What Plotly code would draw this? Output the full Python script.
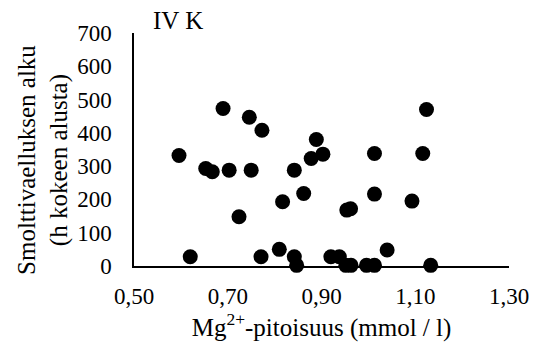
import plotly.graph_objects as go

mg = [0.690, 0.596, 0.653, 0.667, 0.703, 0.724, 0.620, 0.746, 0.773, 0.750,
      0.771, 0.817, 0.810, 0.842, 0.842, 0.847, 0.862, 0.878, 0.889, 0.903,
      1.013, 1.116, 1.124, 0.954, 0.962, 1.013, 1.093, 1.040, 0.920, 0.938,
      0.952, 0.963, 0.996, 1.013, 1.133]
alku = [473, 332, 293, 283, 288, 148, 28, 447, 408, 288,
        28, 193, 50, 288, 28, 2, 218, 323, 380, 336,
        338, 338, 470, 168, 172, 216, 195, 48, 28, 28,
        2, 2, 2, 2, 2]

x_ticks = [0.5, 0.7, 0.9, 1.1, 1.3]
x_labels = ["0,50", "0,70", "0,90", "1,10", "1,30"]
y_ticks = [0, 100, 200, 300, 400, 500, 600, 700]

FONT = "Liberation Serif, Times New Roman, serif"

fig = go.Figure()
fig.add_trace(go.Scatter(
    x=mg, y=alku, mode="markers",
    marker=dict(color="black", size=15, line=dict(width=0)),
    cliponaxis=False, showlegend=False,
))

fig.update_layout(
    width=541, height=347,
    margin=dict(l=134, r=28, t=33, b=81),
    paper_bgcolor="white", plot_bgcolor="white",
    font=dict(family=FONT, size=23, color="black"),
    xaxis=dict(
        range=[0.5, 1.3], tickvals=x_ticks, ticktext=x_labels,
        showline=True, linecolor="black", linewidth=1.5,
        showgrid=False, zeroline=False, ticks="",
        ticklabelstandoff=9, tickfont=dict(size=23),
        title=dict(text="Mg<sup>2+</sup>-pitoisuus (mmol / l)",
                   font=dict(size=25), standoff=8),
    ),
    yaxis=dict(
        range=[0, 700], tickvals=y_ticks,
        showline=True, linecolor="black", linewidth=1.5,
        showgrid=False, zeroline=False, ticks="",
        ticklabelstandoff=16, tickfont=dict(size=23),
    ),
    annotations=[
        dict(text="IV K", x=(151 - 134) / 379, y=1.0, xref="paper", yref="paper",
             xanchor="left", yanchor="bottom", showarrow=False,
             font=dict(size=25), yshift=-3),
        dict(text="Smolttivaelluksen alku<br>(h kokeen alusta)",
             x=(42 - 134) / 379, y=(266 - 160) / 233, xref="paper", yref="paper",
             xanchor="center", yanchor="middle", textangle=-90, showarrow=False,
             font=dict(size=25)),
    ],
)

fig.write_html("out.html")
